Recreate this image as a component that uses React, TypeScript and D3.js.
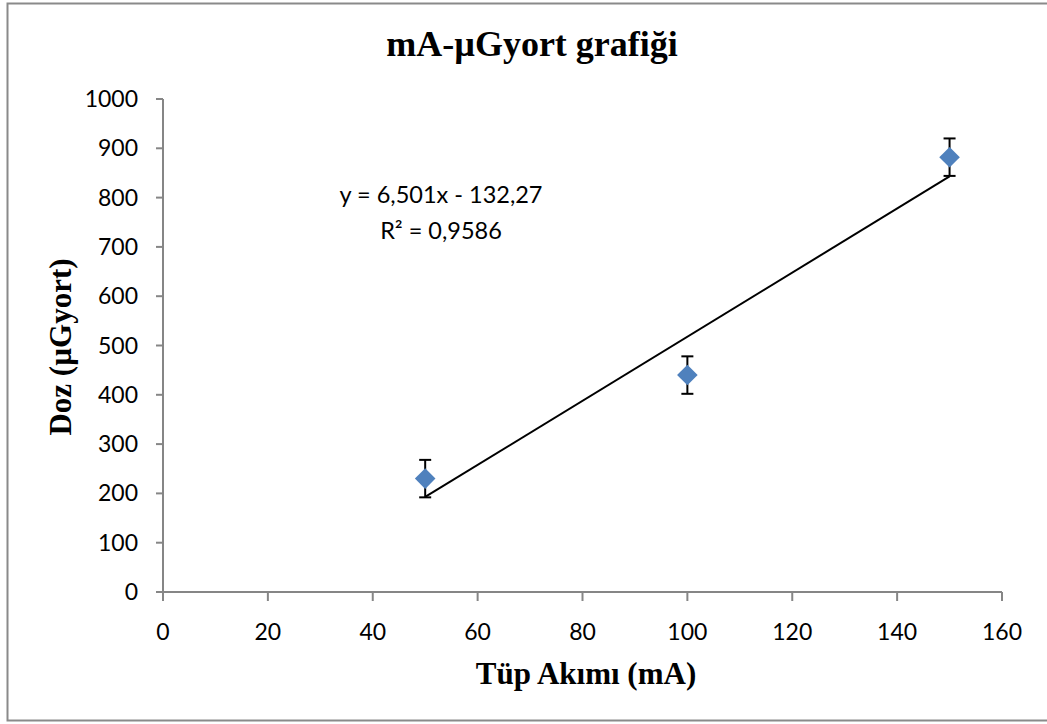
import * as d3 from 'd3';

// values
const currents = [50, 100, 150];
const doses = [230, 440, 882];
const errors = [38, 38, 38];
const xTicks = [0, 20, 40, 60, 80, 100, 120, 140, 160];
const yTicks = [0, 100, 200, 300, 400, 500, 600, 700, 800, 900, 1000];
const slope = 6.501;
const intercept = -132.27;

const W = 1047;
const H = 724;
const axisColor = '#868686';
const tickFont = 'Lato, "Open Sans", sans-serif';
const serif = '"Liberation Serif", "Times New Roman", serif';

export default function App() {
  const x = d3.scaleLinear().domain([0, 160]).range([163, 1002]);
  const y = d3.scaleLinear().domain([0, 1000]).range([592, 99]);

  const trend = d3.line<number>()
    .x((v) => x(v))
    .y((v) => y(slope * v + intercept));

  const diamond = d3.symbol().type(d3.symbolDiamond2).size(270)();

  return (
    <svg width={W} height={H} style={{ position: 'absolute', left: 0, top: 0 }}>
      <rect x={0} y={0} width={W} height={H} fill="#fff" />
      <rect x={7.5} y={3.5} width={W + 20} height={717} fill="none" stroke="#8a8a8a" strokeWidth={2} />

      <text x={532} y={56} textAnchor="middle" fontFamily={serif} fontWeight="bold" fontSize={36}>
        mA-µGyort grafiği
      </text>

      {/* y axis */}
      <line x1={163} x2={163} y1={y(1000)} y2={y(0)} stroke={axisColor} strokeWidth={2} />
      {yTicks.map((t) => (
        <g key={`y${t}`}>
          <line x1={156} x2={163} y1={y(t)} y2={y(t)} stroke={axisColor} strokeWidth={2} />
          <text x={138} y={y(t) + 8} textAnchor="end" fontFamily={tickFont} fontSize={23}>{t}</text>
        </g>
      ))}

      {/* x axis */}
      <line x1={x(0)} x2={x(160)} y1={592} y2={592} stroke={axisColor} strokeWidth={2} />
      {xTicks.map((t) => (
        <g key={`x${t}`}>
          <line x1={x(t)} x2={x(t)} y1={592} y2={601} stroke={axisColor} strokeWidth={2} />
          <text x={x(t)} y={640} textAnchor="middle" fontFamily={tickFont} fontSize={23}>{t}</text>
        </g>
      ))}

      <text x={586} y={684} textAnchor="middle" fontFamily={serif} fontWeight="bold" fontSize={31}>
        Tüp Akımı (mA)
      </text>
      <text transform={`translate(71,347) rotate(-90)`} textAnchor="middle" fontFamily={serif} fontWeight="bold" fontSize={31}>
        Doz (µGyort)
      </text>

      {/* linear trendline */}
      <path d={trend([currents[0], currents[currents.length - 1]]) ?? ''} fill="none" stroke="#000" strokeWidth={2} />

      {/* error bars */}
      {currents.map((c, i) => (
        <g key={`e${c}`} stroke="#000" strokeWidth={2}>
          <line x1={x(c)} x2={x(c)} y1={y(doses[i] + errors[i])} y2={y(doses[i] - errors[i])} />
          <line x1={x(c) - 6} x2={x(c) + 6} y1={y(doses[i] + errors[i])} y2={y(doses[i] + errors[i])} />
          <line x1={x(c) - 6} x2={x(c) + 6} y1={y(doses[i] - errors[i])} y2={y(doses[i] - errors[i])} />
        </g>
      ))}

      {/* markers */}
      {currents.map((c, i) => (
        <path key={`m${c}`} d={diamond ?? ''} transform={`translate(${x(c)},${y(doses[i])})`} fill="#4F81BD" />
      ))}

      <text x={441} y={203} textAnchor="middle" fontFamily={tickFont} fontSize={23.5}>y = 6,501x - 132,27</text>
      <text x={441} y={239} textAnchor="middle" fontFamily={tickFont} fontSize={23.5}>R² = 0,9586</text>
    </svg>
  );
}
